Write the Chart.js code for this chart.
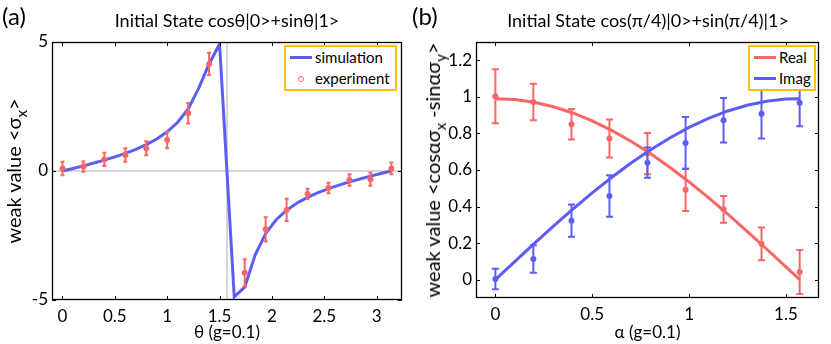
<!DOCTYPE html>
<html>
<head>
<meta charset="utf-8">
<script src="https://cdn.jsdelivr.net/npm/chart.js@4.4.0/dist/chart.umd.min.js"></script>
<style>
  body { margin: 0; background: #fff; font-family: Lato, sans-serif; color: #000; }
  #wrap { position: relative; width: 831px; height: 344px; overflow: hidden; }
  canvas { position: absolute; top: 0; }
  .tag { position: absolute; font-size: 24px; line-height: 28px; }
  .ttl { position: absolute; font-size: 18px; line-height: 22px; white-space: nowrap; transform: translateX(-50%); }
  .ytl { position: absolute; font-size: 20px; line-height: 24px; white-space: nowrap; transform: translate(-50%, -50%) rotate(-90deg); }
  .ytl sub { font-size: 15px; vertical-align: -6px; line-height: 0; }
  .legend { position: absolute; box-sizing: border-box; border: 2px solid #ffc000; background: #fff; font-size: 15px; }
  .legend .row { position: relative; height: 21px; line-height: 21px; padding-left: 29px; white-space: nowrap; }
  .legend .ln { position: absolute; left: 4px; top: 9px; width: 22px; height: 3px; }
  .legend .mk { position: absolute; left: 12px; top: 8px; width: 4px; height: 4px; border-radius: 50%; border: 1px solid; }
</style>
</head>
<body>
<div id="wrap">
  <canvas id="chartA" width="415" height="344" style="left:0;width:415px;height:344px"></canvas>
  <canvas id="chartB" width="416" height="344" style="left:415px;width:416px;height:344px"></canvas>

  <div class="tag" style="left:2px;top:2px">(a)</div>
  <div class="tag" style="left:412px;top:2px">(b)</div>
  <div class="ttl" style="left:227px;top:9px">Initial State cosθ|0&gt;+sinθ|1&gt;</div>
  <div class="ttl" style="left:648px;top:9px">Initial State cos(π/4)|0&gt;+sin(π/4)|1&gt;</div>
  <div class="ytl" style="left:13px;top:171px">weak value &lt;σ<sub>x</sub>&gt;</div>
  <div class="ytl" style="left:432px;top:170px">weak value &lt;cosασ<sub>x</sub> -sinασ<sub>y</sub>&gt;</div>
  <div class="legend" id="legA" style="left:284px;top:45px;width:113px;height:46px"></div>
  <div class="legend" id="legB" style="left:748px;top:45px;width:68px;height:46px"></div>
</div>
<script>
// ---- panel (a): weak value <sigma_x> vs theta ----
const thetaSim = [0, 0.1, 0.2, 0.3, 0.4, 0.5, 0.6, 0.7, 0.8, 0.9, 1.0, 1.1, 1.2, 1.3, 1.4, 1.5,
                  1.64, 1.74, 1.84, 1.94, 2.04, 2.14, 2.24, 2.34, 2.44, 2.54, 2.64, 2.74, 2.84, 2.94, 3.04, 3.14];
const sigmaXSim = [0, 0.10, 0.20, 0.31, 0.42, 0.55, 0.68, 0.84, 1.02, 1.24, 1.52, 1.89, 2.41, 3.2, 4.15, 4.92,
                   -4.88, -4.5, -3.25, -2.42, -1.89, -1.52, -1.24, -1.02, -0.84, -0.68, -0.55, -0.42, -0.31, -0.2, -0.1, 0];
const thetaExp = [0, 0.2, 0.4, 0.6, 0.8, 1.0, 1.2, 1.4, 1.74, 1.94, 2.14, 2.34, 2.54, 2.74, 2.94, 3.14];
const sigmaXExp = [0.1, 0.17, 0.45, 0.62, 0.88, 1.2, 2.24, 4.15, -3.94, -2.26, -1.51, -0.89, -0.66, -0.35, -0.32, 0.1];
const sigmaXErr = [0.26, 0.2, 0.26, 0.26, 0.27, 0.32, 0.4, 0.43, 0.52, 0.47, 0.43, 0.2, 0.2, 0.22, 0.25, 0.23];
const thetaTicks = [0, 0.5, 1, 1.5, 2, 2.5, 3];
const sigmaXTicks = [-5, 0, 5];
const thetaSingular = 1.5708;

// ---- panel (b): weak value <cos(a) sx - sin(a) sy> vs alpha ----
const alphaSim = [0, 0.1, 0.2, 0.3, 0.4, 0.5, 0.6, 0.7, 0.8, 0.9, 1.0, 1.1, 1.2, 1.3, 1.4, 1.5, 1.571];
const realSim = [0.99, 0.985, 0.97, 0.946, 0.912, 0.869, 0.817, 0.757, 0.69, 0.615, 0.535, 0.449, 0.359, 0.265, 0.168, 0.07, 0];
const imagSim = [0, 0.099, 0.197, 0.293, 0.386, 0.475, 0.559, 0.638, 0.71, 0.775, 0.833, 0.882, 0.923, 0.954, 0.976, 0.988, 0.99];
const alphaExp = [0, 0.196, 0.393, 0.589, 0.785, 0.982, 1.178, 1.374, 1.571];
const realExp = [1.003, 0.972, 0.85, 0.772, 0.69, 0.492, 0.385, 0.196, 0.042];
const realErr = [0.148, 0.1, 0.083, 0.104, 0.113, 0.116, 0.073, 0.09, 0.12];
const imagExp = [0.004, 0.113, 0.323, 0.458, 0.64, 0.748, 0.872, 0.908, 0.968];
const imagErr = [0.056, 0.075, 0.088, 0.113, 0.083, 0.142, 0.122, 0.136, 0.129];
const alphaTicks = [0, 0.5, 1, 1.5];
const weakTicks = [0, 0.2, 0.4, 0.6, 0.8, 1, 1.2];

const red = '#fa6666';
const blue = '#5c5cf6';
const gray = '#d6d6d6';
Chart.defaults.font.family = 'Lato';
Chart.defaults.color = '#000';

function pts(xs, ys) {
    return xs.map((x, i) => ({ x: x, y: ys[i] }));
}

// error bars drawn under each dataset's markers
const errorBars = {
    id: 'errorBars',
    beforeDatasetDraw(chart, args) {
        const ds = chart.data.datasets[args.index];
        if (!ds.errors) return;
        const ctx = chart.ctx, xs = chart.scales.x, ys = chart.scales.y;
        ctx.save();
        ctx.strokeStyle = ds.backgroundColor;
        ctx.lineWidth = ds.errWidth;
        ctx.beginPath();
        ds.data.forEach((p, i) => {
            const px = xs.getPixelForValue(p.x);
            const top = ys.getPixelForValue(p.y + ds.errors[i]);
            const bot = ys.getPixelForValue(p.y - ds.errors[i]);
            const c = ds.capWidth / 2;
            ctx.moveTo(px, top); ctx.lineTo(px, bot);
            ctx.moveTo(px - c, top); ctx.lineTo(px + c, top);
            ctx.moveTo(px - c, bot); ctx.lineTo(px + c, bot);
        });
        ctx.stroke();
        ctx.restore();
    }
};

// matlab style box with inward ticks on all four sides
const boxTicks = {
    id: 'boxTicks',
    afterDraw(chart) {
        const ctx = chart.ctx, a = chart.chartArea, xs = chart.scales.x, ys = chart.scales.y;
        const len = 4;
        ctx.save();
        ctx.strokeStyle = '#000';
        ctx.lineWidth = 1;
        ctx.beginPath();
        xs.ticks.forEach(t => {
            const px = Math.round(xs.getPixelForValue(t.value)) + 0.5;
            ctx.moveTo(px, a.bottom); ctx.lineTo(px, a.bottom - len);
            ctx.moveTo(px, a.top); ctx.lineTo(px, a.top + len);
        });
        ys.ticks.forEach(t => {
            const py = Math.round(ys.getPixelForValue(t.value)) + 0.5;
            ctx.moveTo(a.left, py); ctx.lineTo(a.left + len, py);
            ctx.moveTo(a.right, py); ctx.lineTo(a.right - len, py);
        });
        ctx.stroke();
        ctx.lineWidth = 1.3;
        ctx.strokeRect(Math.round(a.left) + 0.5, Math.round(a.top) + 0.5,
                       Math.round(a.right - a.left) - 1, Math.round(a.bottom - a.top) - 1);
        ctx.restore();
    }
};

function panelOptions(cfg) {
    const tickFont = { family: 'Lato', size: 17 };
    return {
        responsive: false,
        animation: false,
        events: [],
        layout: { padding: { top: 42, right: cfg.padRight, left: 0, bottom: 0 } },
        plugins: { legend: { display: false }, tooltip: { enabled: false } },
        scales: {
            x: {
                type: 'linear', min: cfg.xMin, max: cfg.xMax,
                afterBuildTicks: s => { s.ticks = cfg.xTicks.map(v => ({ value: v })); },
                afterFit: s => { s.height = cfg.xHeight; },
                grid: { display: false, drawTicks: false },
                border: { display: false },
                ticks: { font: tickFont, padding: 6, maxRotation: 0, autoSkip: false, callback: v => String(v) },
                title: { display: true, text: cfg.xTitle, font: tickFont, padding: { top: 0, bottom: 1 } }
            },
            y: {
                type: 'linear', min: cfg.yMin, max: cfg.yMax,
                afterBuildTicks: s => { s.ticks = cfg.yTicks.map(v => ({ value: v })); },
                afterFit: s => { s.width = cfg.yWidth; },
                grid: {
                    display: cfg.zeroLine, drawTicks: false, lineWidth: 2,
                    color: c => (c.tick && c.tick.value === 0 ? gray : 'rgba(0,0,0,0)')
                },
                border: { display: false },
                ticks: { font: tickFont, padding: 4, autoSkip: false, callback: v => String(v) }
            }
        }
    };
}

function buildLegend(id, chart) {
    const box = document.getElementById(id);
    chart.data.datasets.filter(d => d.legend).forEach(d => {
        const row = document.createElement('div');
        row.className = 'row';
        const sym = document.createElement('span');
        if (d.legend === 'line') {
            sym.className = 'ln';
            sym.style.background = d.borderColor;
        } else {
            sym.className = 'mk';
            sym.style.borderColor = d.backgroundColor;
        }
        row.appendChild(sym);
        row.appendChild(document.createTextNode(d.label));
        box.appendChild(row);
    });
}

const chartA = new Chart(document.getElementById('chartA'), {
    type: 'scatter',
    data: {
        datasets: [
            {
                label: 'simulation', legend: 'line',
                data: pts(thetaSim, sigmaXSim), showLine: true, borderColor: blue,
                backgroundColor: blue, borderWidth: 3, pointRadius: 0, tension: 0, order: 2
            },
            {
                label: 'experiment', legend: 'marker',
                data: pts(thetaExp, sigmaXExp), errors: sigmaXErr, errWidth: 2, capWidth: 4,
                backgroundColor: red, borderColor: red, pointRadius: 3, borderWidth: 0, order: 1
            },
            {
                label: 'singular', data: pts([thetaSingular, thetaSingular], [sigmaXTicks[0], sigmaXTicks[2]]),
                showLine: true, borderColor: gray, borderWidth: 2, pointRadius: 0, order: 5
            }
        ]
    },
    options: panelOptions({
        xMin: -0.1, xMax: 3.2416, yMin: -5, yMax: 5, xTicks: thetaTicks, yTicks: sigmaXTicks,
        xTitle: 'θ (g=0.1)', xHeight: 44, yWidth: 52, padRight: 13, zeroLine: true
    }),
    plugins: [errorBars, boxTicks]
});

const chartB = new Chart(document.getElementById('chartB'), {
    type: 'scatter',
    data: {
        datasets: [
            {
                label: 'Real', legend: 'line',
                data: pts(alphaSim, realSim), showLine: true, borderColor: red,
                backgroundColor: red, borderWidth: 3, pointRadius: 0, order: 2
            },
            {
                label: 'Imag', legend: 'line',
                data: pts(alphaSim, imagSim), showLine: true, borderColor: blue,
                backgroundColor: blue, borderWidth: 3, pointRadius: 0, order: 1
            },
            {
                label: 'Real exp', data: pts(alphaExp, realExp), errors: realErr, errWidth: 2, capWidth: 7,
                backgroundColor: red, borderColor: red, pointRadius: 3, borderWidth: 0, order: 4
            },
            {
                label: 'Imag exp', data: pts(alphaExp, imagExp), errors: imagErr, errWidth: 2, capWidth: 7,
                backgroundColor: blue, borderColor: blue, pointRadius: 3, borderWidth: 0, order: 3
            }
        ]
    },
    options: panelOptions({
        xMin: -0.1, xMax: 1.6708, yMin: -0.1, yMax: 1.3, xTicks: alphaTicks, yTicks: weakTicks,
        xTitle: 'α (g=0.1)', xHeight: 46, yWidth: 61, padRight: 12, zeroLine: false
    }),
    plugins: [errorBars, boxTicks]
});

buildLegend('legA', chartA);
buildLegend('legB', chartB);
</script>
</body>
</html>
